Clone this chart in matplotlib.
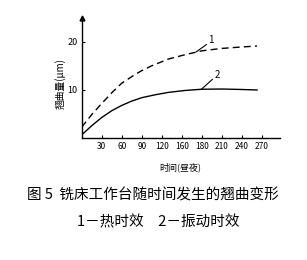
import matplotlib
matplotlib.use("Agg")
import matplotlib.pyplot as plt

plt.rcParams['font.family'] = ['Noto Sans CJK SC', 'DejaVu Sans']

# Data
t_heat = [0, 15, 30, 45, 60, 80, 90, 105, 130, 155, 180, 210, 240, 263]
v_heat = [2.3, 4.9, 7.2, 9.4, 11.4, 13.2, 14.0, 15.0, 16.4, 17.3, 18.1, 18.6, 18.9, 19.1]
t_vib = [0, 15, 30, 45, 60, 75, 90, 110, 130, 155, 180, 210, 240, 263]
v_vib = [0.7, 2.6, 4.3, 5.7, 6.8, 7.7, 8.4, 9.0, 9.5, 9.9, 10.15, 10.2, 10.1, 10.0]

x_ticks = [30, 60, 90, 120, 150, 180, 210, 240, 270]
x_tick_labels = ["30", "60", "90", "120", "160", "180", "210", "240", "270"]
y_ticks = [10, 20]
y_tick_labels = ["10", "20"]

fig = plt.figure(figsize=(3.07, 2.60), dpi=100)
ax = fig.add_axes([81.7 / 307, (260 - 138.3) / 260, 198 / 307, 120.8 / 260])

ax.plot(t_heat, v_heat, color='black', lw=1.0, linestyle=(0, (5, 3)))
ax.plot(t_vib, v_vib, color='black', lw=1.0)

ax.set_xlim(0, 297)
ax.set_ylim(0, 25)
ax.spines['top'].set_visible(False)
ax.spines['right'].set_visible(False)
ax.spines['left'].set_linewidth(1.0)
ax.spines['bottom'].set_linewidth(1.0)
ax.plot([0], [25], marker='^', color='black', markersize=3.5, clip_on=False)

ax.set_xticks(x_ticks)
ax.set_xticklabels(x_tick_labels, fontsize=6)
ax.set_yticks(y_ticks)
ax.set_yticklabels(y_tick_labels, fontsize=6.5)
ax.tick_params(axis='both', direction='in', length=2.5, width=0.8, pad=3)

# Curve annotations
ax.plot([172, 187], [17.9, 19.4], color='black', lw=0.8)
ax.text(193, 20.4, "1", fontsize=7, ha='center', va='center')
ax.plot([180, 196], [10.2, 12.2], color='black', lw=0.8)
ax.text(203, 13.2, "2", fontsize=7, ha='center', va='center')

fig.text(60 / 307, 1 - 84 / 260, "翘曲量(μm)", fontsize=7, rotation=90,
         ha='center', va='center')
ax.set_xlabel("时间(昼夜)", fontsize=6.5, labelpad=8)

fig.text(153 / 307, 1 - 195 / 260, "图 5  铣床工作台随时间发生的翘曲变形",
         fontsize=10.5, ha='center', va='center')
fig.text(158 / 307, 1 - 222 / 260, "1－热时效　2－振动时效",
         fontsize=10.5, ha='center', va='center')

fig.savefig("out.png", dpi=100)
